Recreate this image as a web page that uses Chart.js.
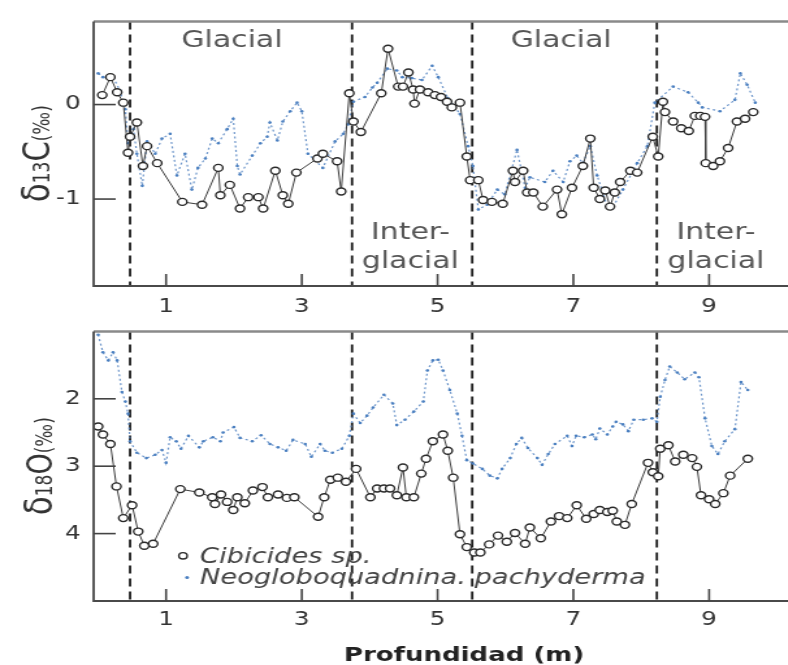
<!DOCTYPE html>
<html>
<head>
<meta charset="utf-8">
<script src="https://cdn.jsdelivr.net/npm/chart.js@4.4.1/dist/chart.umd.min.js"></script>
<style>
  html, body { margin: 0; padding: 0; background: #fff; overflow: hidden; }
  #wrap { position: relative; width: 788px; height: 665px; overflow: hidden; }
  canvas { position: absolute; left: 0; }
  #topChart { top: 0; }
  #bottomChart { top: 310px; }
</style>
</head>
<body>
<div id="wrap">
  <!-- drawn narrow and stretched sideways, like the original scan -->
  <canvas id="topChart" width="623" height="320" style="width:810px;height:320px"></canvas>
  <canvas id="bottomChart" width="623" height="355" style="width:810px;height:355px"></canvas>
</div>
<script>
// axis ticks and stage boundaries (depth in m)
const depthTicks = [1, 3, 5, 7, 9];
const c13Ticks = [0, -1];
const o18Ticks = [2, 3, 4];
const stageBounds = [0.47, 3.74, 5.51, 8.23];
const speciesNames = ['Cibicides sp.', 'Neogloboquadnina. pachyderma'];

// delta 13C, Cibicides sp.
const c13CibDepth = [0.06,0.18,0.28,0.37,0.44,0.47,0.57,0.66,0.72,0.87,1.24,1.53,1.77,1.80,1.94,2.09,2.21,2.36,2.43,2.61,
  2.72,2.80,2.92,3.23,3.31,3.52,3.58,3.70,3.76,3.87,4.17,4.27,4.42,4.49,4.57,4.64,4.66,4.74,4.86,4.96,
  5.05,5.14,5.21,5.33,5.43,5.48,5.60,5.67,5.80,5.96,6.11,6.14,6.26,6.32,6.41,6.55,6.76,6.83,6.98,7.14,
  7.25,7.30,7.39,7.47,7.54,7.61,7.69,7.84,7.94,8.17,8.25,8.32,8.35,8.47,8.59,8.70,8.79,8.87,8.94,8.95,
  9.06,9.16,9.28,9.41,9.53,9.65];
const c13Cib = [0.10,0.29,0.13,0.02,-0.51,-0.34,-0.19,-0.65,-0.44,-0.62,-1.03,-1.06,-0.67,-0.96,-0.85,-1.10,-0.98,-0.98,-1.10,-0.70,
  -0.96,-1.05,-0.72,-0.57,-0.52,-0.60,-0.92,0.12,-0.18,-0.29,0.12,0.59,0.19,0.19,0.34,0.16,0.01,0.16,0.13,0.10,
  0.08,0.03,-0.03,0.02,-0.55,-0.80,-0.80,-1.01,-1.03,-1.05,-0.70,-0.82,-0.70,-0.93,-0.93,-1.08,-0.90,-1.16,-0.88,-0.65,
  -0.36,-0.88,-1.00,-0.91,-1.08,-0.93,-0.82,-0.70,-0.72,-0.34,-0.55,0.03,-0.08,-0.18,-0.25,-0.28,-0.12,-0.12,-0.13,-0.62,
  -0.65,-0.60,-0.46,-0.18,-0.15,-0.08];

// delta 13C, N. pachyderma
const c13NeoDepth = [0.00,0.07,0.22,0.32,0.40,0.44,0.52,0.57,0.65,0.72,0.84,0.94,1.06,1.16,1.28,1.38,1.47,1.58,1.68,1.77,
  1.90,1.99,2.05,2.09,2.27,2.39,2.49,2.53,2.64,2.72,2.83,2.93,3.00,3.09,3.31,3.49,3.61,3.68,3.76,3.93,
  4.04,4.11,4.26,4.40,4.48,4.62,4.77,4.92,5.01,5.15,5.33,5.45,5.52,5.60,5.73,5.88,5.99,6.17,6.29,6.36,
  6.58,6.70,6.85,6.95,7.05,7.14,7.25,7.35,7.50,7.57,7.73,7.94,8.09,8.20,8.47,8.69,8.84,8.90,9.16,9.38,
  9.46,9.56,9.68];
const c13Neo = [0.33,0.29,0.29,0.15,-0.05,-0.41,-0.26,-0.52,-0.86,-0.39,-0.52,-0.36,-0.31,-0.75,-0.52,-0.90,-0.67,-0.57,-0.36,-0.41,
  -0.26,-0.15,-0.65,-0.74,-0.54,-0.41,-0.34,-0.19,-0.38,-0.18,-0.07,0.02,-0.07,-0.52,-0.67,-0.39,-0.31,-0.21,0.03,0.08,
  0.18,0.23,0.38,0.36,0.29,0.28,0.26,0.41,0.29,0.07,-0.10,-0.44,-0.65,-1.11,-1.06,-0.90,-0.95,-0.48,-0.88,-0.77,
  -0.82,-0.70,-0.82,-0.60,-0.54,-0.62,-0.44,-0.75,-1.08,-1.10,-0.90,-0.62,-0.44,0.02,0.19,0.13,0.02,-0.03,-0.07,0.05,
  0.33,0.21,0.02];

// delta 18O, Cibicides sp.
const o18CibDepth = [0.00,0.07,0.18,0.27,0.37,0.50,0.59,0.68,0.81,1.21,1.49,1.68,1.72,1.81,1.90,1.99,2.05,2.16,2.28,2.42,
  2.50,2.65,2.78,2.89,3.24,3.33,3.42,3.53,3.65,3.80,4.01,4.11,4.21,4.30,4.40,4.49,4.54,4.65,4.76,4.83,
  4.93,5.08,5.15,5.23,5.33,5.43,5.54,5.63,5.76,5.89,6.02,6.14,6.29,6.36,6.52,6.67,6.79,6.91,7.05,7.19,
  7.30,7.39,7.50,7.58,7.64,7.76,7.86,8.10,8.17,8.25,8.28,8.40,8.50,8.62,8.75,8.82,8.88,9.00,9.09,9.21,
  9.31,9.57];
const o18Cib = [2.41,2.53,2.67,3.30,3.77,3.58,3.97,4.18,4.15,3.34,3.39,3.46,3.56,3.42,3.53,3.65,3.46,3.55,3.36,3.31,
  3.46,3.42,3.47,3.46,3.75,3.46,3.20,3.17,3.23,3.04,3.46,3.33,3.33,3.33,3.43,3.02,3.46,3.46,3.11,2.89,
  2.63,2.53,2.77,3.17,4.01,4.20,4.28,4.28,4.16,4.03,4.12,3.99,4.15,3.91,4.07,3.82,3.74,3.77,3.58,3.78,
  3.71,3.65,3.68,3.66,3.82,3.87,3.56,2.95,3.09,3.15,2.74,2.69,2.93,2.83,2.88,3.01,3.43,3.49,3.56,3.40,
  3.14,2.89];

// delta 18O, N. pachyderma
const o18NeoDepth = [0.00,0.07,0.15,0.22,0.28,0.35,0.40,0.44,0.47,0.57,0.71,0.84,0.94,1.00,1.06,1.15,1.22,1.33,1.49,1.55,
  1.69,1.80,1.84,2.00,2.09,2.27,2.40,2.53,2.65,2.77,2.87,3.05,3.14,3.27,3.34,3.45,3.59,3.70,3.76,3.86,
  3.96,4.05,4.21,4.34,4.40,4.52,4.65,4.79,4.85,4.93,5.01,5.08,5.18,5.29,5.36,5.43,5.52,5.66,5.77,5.88,
  5.95,6.07,6.16,6.24,6.33,6.47,6.54,6.63,6.73,6.91,6.98,7.04,7.16,7.28,7.33,7.39,7.50,7.58,7.63,7.73,
  7.81,7.89,8.03,8.16,8.23,8.28,8.35,8.42,8.53,8.64,8.79,8.85,8.94,9.04,9.13,9.23,9.38,9.47,9.57];
const o18Neo = [1.05,1.31,1.43,1.31,1.43,1.90,2.04,2.22,2.63,2.80,2.88,2.83,2.76,2.95,2.57,2.63,2.74,2.55,2.72,2.63,
  2.57,2.63,2.50,2.42,2.58,2.63,2.54,2.67,2.72,2.77,2.61,2.67,2.86,2.67,2.77,2.80,2.74,2.55,2.22,2.36,
  2.25,2.13,1.94,2.07,2.39,2.31,2.19,2.04,1.58,1.43,1.42,1.58,1.87,2.22,2.55,2.91,2.96,3.04,3.14,3.18,
  3.04,2.88,2.67,2.58,2.73,2.88,2.98,2.82,2.67,2.55,2.70,2.55,2.57,2.53,2.60,2.44,2.53,2.41,2.34,2.38,
  2.48,2.31,2.31,2.29,2.34,1.97,1.72,1.52,1.61,1.71,1.61,1.68,2.29,2.70,2.82,2.63,2.45,1.75,1.87];

const FONT = '"DejaVu Sans", sans-serif';
const NEO_LINE = 'rgba(92,138,196,0.9)';
const NEO_DOT = '#4a7fc0';

function pairs(xs, ys) {
  return xs.map((x, i) => ({ x: x, y: ys[i] }));
}

function neoSet(xs, ys) {
  return {
    label: speciesNames[1], data: pairs(xs, ys), order: 2,
    borderColor: NEO_LINE, borderWidth: 1.2, borderDash: [2, 2.5],
    pointRadius: 1.3, pointBackgroundColor: NEO_DOT, pointBorderWidth: 0
  };
}

function cibSet(xs, ys) {
  return {
    label: speciesNames[0], data: pairs(xs, ys), order: 1,
    borderColor: '#3b3b3b', borderWidth: 1,
    pointRadius: 3.5, pointBorderWidth: 1.4, pointBorderColor: '#2a2a2a', pointBackgroundColor: '#fff'
  };
}

function line(ctx, x1, y1, x2, y2) {
  ctx.beginPath();
  ctx.moveTo(x1, y1);
  ctx.lineTo(x2, y2);
  ctx.stroke();
}

// rotated axis title made of parts of different sizes (delta, isotope, element, per mil)
function drawYTitle(ctx, parts, baseX, centerY) {
  ctx.save();
  let total = 0;
  parts.forEach(p => {
    ctx.font = p.s + 'px ' + FONT;
    p.w = ctx.measureText(p.t).width;
    total += p.w;
  });
  ctx.translate(baseX, centerY);
  ctx.rotate(-Math.PI / 2);
  ctx.fillStyle = '#333';
  ctx.textAlign = 'left';
  ctx.textBaseline = 'alphabetic';
  let pos = -total / 2;
  parts.forEach(p => {
    ctx.font = p.s + 'px ' + FONT;
    ctx.fillText(p.t, pos, p.dy || 0);
    pos += p.w;
  });
  ctx.restore();
}

const framePlugin = {
  id: 'frame',
  beforeDatasetsDraw(chart) {
    const { ctx, chartArea: a, scales: { x } } = chart;
    ctx.save();
    ctx.strokeStyle = '#1a1a1a';
    ctx.lineWidth = 1.8;
    ctx.setLineDash([8, 5]);
    stageBounds.forEach(b => {
      const px = x.getPixelForValue(b);
      line(ctx, px, a.top, px, a.bottom);
    });
    ctx.restore();
  },
  afterDraw(chart, args, opts) {
    const { ctx, chartArea: a, scales: { x, y } } = chart;
    ctx.save();

    // box: grey top, darker left and bottom
    ctx.strokeStyle = '#8a8a8a';
    ctx.lineWidth = 2.5;
    line(ctx, a.left, a.top, a.right, a.top);
    ctx.strokeStyle = '#4a4a4a';
    ctx.lineWidth = 1.8;
    ctx.beginPath();
    ctx.moveTo(a.left, a.top);
    ctx.lineTo(a.left, a.bottom);
    ctx.lineTo(a.right, a.bottom);
    ctx.stroke();

    // ticks point inwards
    ctx.strokeStyle = '#444';
    ctx.lineWidth = 1.6;
    depthTicks.forEach(v => {
      const px = x.getPixelForValue(v);
      line(ctx, px, a.bottom, px, a.bottom - 12);
    });
    y.ticks.forEach(t => {
      const py = y.getPixelForValue(t.value);
      line(ctx, a.left, py, a.left + 17, py);
    });

    drawYTitle(ctx, opts.title, opts.titleX, (a.top + a.bottom) / 2);

    // stage names and other notes
    (opts.notes || []).forEach(n => {
      ctx.font = n.font;
      ctx.fillStyle = n.color;
      ctx.textAlign = n.align || 'center';
      ctx.textBaseline = 'alphabetic';
      ctx.fillText(n.text, x.getPixelForValue(n.x), y.getPixelForValue(n.y));
    });

    // legend symbols
    (opts.marks || []).forEach(m => {
      const px = x.getPixelForValue(m.x);
      const py = y.getPixelForValue(m.y);
      ctx.beginPath();
      if (m.kind === 'ring') {
        ctx.arc(px, py, 3.2, 0, Math.PI * 2);
        ctx.fillStyle = '#fff';
        ctx.fill();
        ctx.strokeStyle = '#2a2a2a';
        ctx.lineWidth = 1.4;
        ctx.stroke();
      } else {
        ctx.arc(px, py, 1.5, 0, Math.PI * 2);
        ctx.fillStyle = NEO_DOT;
        ctx.fill();
      }
    });

    if (opts.xTitle) {
      ctx.font = 'bold 20px ' + FONT;
      ctx.fillStyle = '#222';
      ctx.textAlign = 'center';
      ctx.textBaseline = 'alphabetic';
      ctx.fillText(opts.xTitle, x.getPixelForValue(5.39), chart.height - 4);
    }
    ctx.restore();
  }
};

function depthAxis(boxHeight, pad) {
  return {
    type: 'linear', min: -0.067, max: 10.333,
    afterBuildTicks: s => { s.ticks = depthTicks.map(v => ({ value: v })); },
    afterFit: s => { s.height = boxHeight; },
    grid: { display: false, drawTicks: false },
    border: { display: false },
    ticks: { padding: pad, maxRotation: 0, autoSkip: false, color: '#333', font: { family: FONT, size: 19 } }
  };
}

function isoAxis(min, max, ticks, reverse) {
  return {
    type: 'linear', min: min, max: max, reverse: reverse,
    afterBuildTicks: s => { s.ticks = ticks.map(v => ({ value: v })); },
    afterFit: s => { s.width = 72; },
    grid: { display: false, drawTicks: false },
    border: { display: false },
    ticks: { padding: 10, color: '#333', font: { family: FONT, size: 19 } }
  };
}

const noteFont = '23px ' + FONT;
const noteColor = '#555';

new Chart(document.getElementById('topChart'), {
  type: 'line',
  data: { datasets: [cibSet(c13CibDepth, c13Cib), neoSet(c13NeoDepth, c13Neo)] },
  options: {
    responsive: false,
    animation: false,
    layout: { padding: { top: 15, right: 8, bottom: 0, left: 0 } },
    scales: {
      x: depthAxis(34, 10),
      y: isoAxis(-1.92, 0.88, c13Ticks, false)
    },
    plugins: {
      legend: { display: false },
      tooltip: { enabled: false },
      frame: {
        titleX: 38,
        title: [{ t: 'δ', s: 31 }, { t: '13', s: 17 }, { t: 'C', s: 29 }, { t: '(‰)', s: 17 }],
        notes: [
          { text: 'Glacial', x: 1.97, y: 0.61, font: noteFont, color: noteColor },
          { text: 'Glacial', x: 6.82, y: 0.61, font: noteFont, color: noteColor },
          { text: 'Inter-', x: 4.60, y: -1.42, font: noteFont, color: noteColor },
          { text: 'glacial', x: 4.60, y: -1.73, font: noteFont, color: noteColor },
          { text: 'Inter-', x: 9.10, y: -1.42, font: noteFont, color: noteColor },
          { text: 'glacial', x: 9.10, y: -1.73, font: noteFont, color: noteColor }
        ]
      }
    }
  },
  plugins: [framePlugin]
});

new Chart(document.getElementById('bottomChart'), {
  type: 'line',
  data: { datasets: [cibSet(o18CibDepth, o18Cib), neoSet(o18NeoDepth, o18Neo)] },
  options: {
    responsive: false,
    animation: false,
    layout: { padding: { top: 18, right: 8, bottom: 0, left: 0 } },
    scales: {
      x: depthAxis(64, 8),
      y: isoAxis(1, 5, o18Ticks, true)
    },
    plugins: {
      legend: { display: false },
      tooltip: { enabled: false },
      frame: {
        titleX: 40,
        title: [{ t: 'δ', s: 31 }, { t: '18', s: 17 }, { t: 'O', s: 27 }, { t: '(‰)', s: 17 }],
        xTitle: 'Profundidad (m)',
        notes: [
          { text: speciesNames[0], x: 1.50, y: 4.43, font: 'italic 21px ' + FONT, color: '#444', align: 'left' },
          { text: speciesNames[1], x: 1.50, y: 4.75, font: 'italic 21px ' + FONT, color: '#444', align: 'left' }
        ],
        marks: [
          { kind: 'ring', x: 1.25, y: 4.33 },
          { kind: 'dot', x: 1.31, y: 4.65 }
        ]
      }
    }
  },
  plugins: [framePlugin]
});
</script>
</body>
</html>
